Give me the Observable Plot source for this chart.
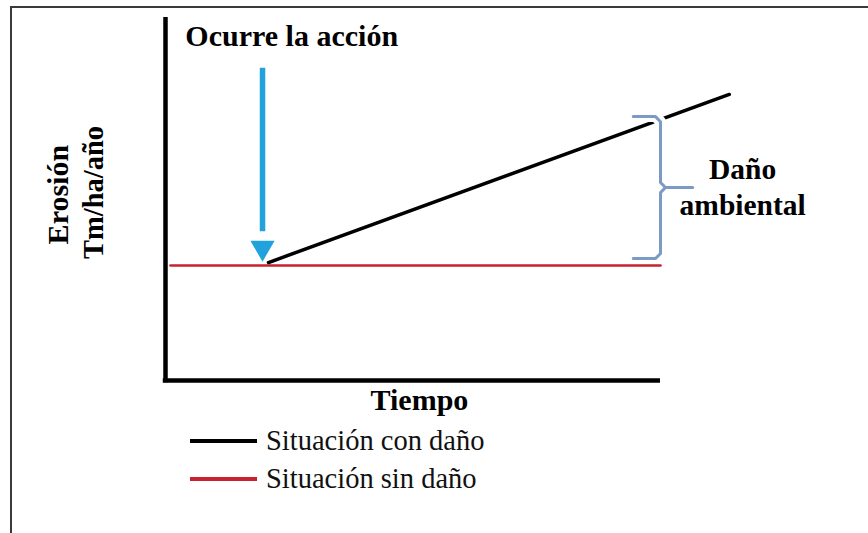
<!DOCTYPE html>
<html>
<head>
<meta charset="utf-8">
<script src="https://cdn.jsdelivr.net/npm/d3@7"></script>
<script src="https://cdn.jsdelivr.net/npm/@observablehq/plot@0.6"></script>
<style>
  html, body { margin: 0; padding: 0; background: #fff; }
  #wrap { position: relative; width: 868px; height: 533px; overflow: hidden; font-family: "Liberation Serif", "Times New Roman", serif; }
  #frame { position: absolute; left: 10px; top: 6px; width: 900px; height: 600px; border-left: 2px solid #3a3a3a; border-top: 2px solid #3a3a3a; }
  #chart { position: absolute; left: 0; top: 0; }
  #legend { position: absolute; left: 0; top: 420px; width: 868px; }
  .item { position: absolute; left: 190px; height: 34px; display: flex; align-items: center; font-size: 28.5px; color: #111; }
  .sw { width: 67px; height: 4px; margin-right: 9px; }
</style>
</head>
<body>
<div id="wrap">
  <div id="frame"></div>
  <div id="chart"></div>
  <div id="legend"></div>
</div>
<script>
// ---- data (time and erosion in arbitrary conceptual units) ----
const series = ["Situación con daño", "Situación sin daño"];
const seriesColors = ["#000000", "#c8212f"];
const conDanoTiempo = [20.8, 113.9];
const conDanoErosion = [32.5, 78.8];
const sinDanoTiempo = [1, 100];
const sinDanoErosion = [31.7, 31.7];
const accionTiempo = 19.6;
const accionDesde = 86;
const accionHasta = 33;
const braceTiempo = 100;
const braceArriba = 72.7;
const braceAbajo = 33.6;
const titulos = { accion: "Ocurre la acción", dano: "Daño\nambiental", x: "Tiempo", y1: "Erosión", y2: "Tm/ha/año" };

// ---- build tables ----
const conDano = conDanoTiempo.map((t, i) => ({t, e: conDanoErosion[i]}));
const sinDano = sinDanoTiempo.map((t, i) => ({t, e: sinDanoErosion[i]}));
const mid = (braceArriba + braceAbajo) / 2;
const arm = 5.5, tick = 6.5, rt = 1, re = 1.4;
const braceTop = [
  {t: braceTiempo - arm, e: braceArriba}, {t: braceTiempo - rt, e: braceArriba},
  {t: braceTiempo, e: braceArriba - re}, {t: braceTiempo, e: mid + re},
  {t: braceTiempo + rt, e: mid}, {t: braceTiempo + tick, e: mid}
].map(d => ({...d, z: "a"}));
const braceBot = [
  {t: braceTiempo + rt, e: mid}, {t: braceTiempo, e: mid - re},
  {t: braceTiempo, e: braceAbajo + re}, {t: braceTiempo - rt, e: braceAbajo},
  {t: braceTiempo - arm, e: braceAbajo}
].map(d => ({...d, z: "b"}));
const braceHalo = braceTop.slice(0, 3);

const font = "Liberation Serif, Times New Roman, serif";

const plot = Plot.plot({
  width: 868,
  height: 420,
  margin: 0,
  x: {domain: [0, 100], range: [165, 660], axis: null},
  y: {domain: [0, 100], range: [380, 17], axis: null},
  style: {background: "transparent", fontFamily: font},
  marks: [
    // axes
    Plot.ruleX([0], {y1: -0.6, y2: 100, stroke: "#000", strokeWidth: 4.5}),
    Plot.ruleY([0], {x1: -0.45, x2: 100, stroke: "#000", strokeWidth: 4.5}),
    // without damage
    Plot.line(sinDano, {x: "t", y: "e", stroke: seriesColors[1], strokeWidth: 2.5}),
    // with damage
    Plot.line(conDano, {x: "t", y: "e", stroke: seriesColors[0], strokeWidth: 3.5}),
    // brace
    Plot.line(braceHalo, {x: "t", y: "e", stroke: "#fff", strokeWidth: 11}),
    Plot.line([...braceTop, ...braceBot], {x: "t", y: "e", z: "z", stroke: "#7b9bc6", strokeWidth: 3, strokeLinejoin: "round", curve: "linear"}),
    // action arrow
    Plot.ruleX([accionTiempo], {y1: accionDesde, y2: accionHasta + 8, stroke: "#21a2dd", strokeWidth: 5.5}),
    Plot.dot([{t: accionTiempo, e: accionHasta}], {x: "t", y: "e", symbol: "triangle", r: 9, fill: "#21a2dd", rotate: 180, dy: -13}),
    // texts
    Plot.text([titulos.accion], {x: 25.5, y: 94.7, text: d => d, fontSize: 30, fontWeight: "bold", fill: "#000"}),
    Plot.text([titulos.dano], {x: 116.6, y: 53.7, text: d => d, fontSize: 29.5, fontWeight: "bold", lineHeight: 1.2, fill: "#000"}),
    Plot.text([titulos.x], {x: 51.3, y: -5.6, text: d => d, fontSize: 30, fontWeight: "bold", fill: "#000"}),
    Plot.text([titulos.y1], {x: -21.6, y: 51.2, text: d => d, fontSize: 30, fontWeight: "bold", rotate: -90, fill: "#000", letterSpacing: "0.5px"}),
    Plot.text([titulos.y2], {x: -14.5, y: 51.8, text: d => d, fontSize: 28.5, fontWeight: "bold", rotate: -90, fill: "#000"})
  ]
});
document.getElementById("chart").appendChild(plot);

// legend
const legend = document.getElementById("legend");
series.forEach((s, i) => {
  const row = document.createElement("div");
  row.className = "item";
  row.style.top = (4 + i * 38) + "px";
  const sw = document.createElement("div");
  sw.className = "sw";
  sw.style.background = seriesColors[i];
  const tx = document.createElement("span");
  tx.textContent = s;
  row.appendChild(sw);
  row.appendChild(tx);
  legend.appendChild(row);
});
</script>
</body>
</html>
